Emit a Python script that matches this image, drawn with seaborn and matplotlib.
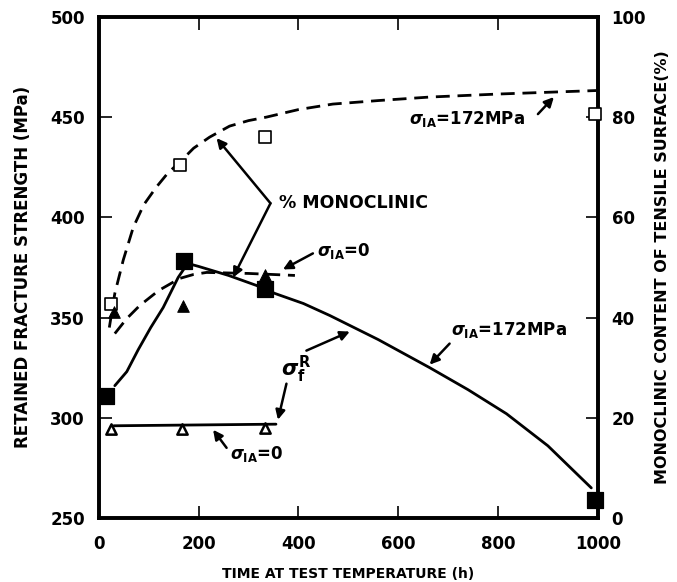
import matplotlib
matplotlib.use("Agg")
import matplotlib.pyplot as plt
import seaborn as sns

sns.set_theme(style="ticks")
plt.rcParams['font.family'] = ['DejaVu Sans']
plt.rcParams['font.weight'] = 'bold'
plt.rcParams['mathtext.fontset'] = 'dejavusans'
for k in ('text.color', 'axes.labelcolor', 'xtick.color', 'ytick.color', 'axes.edgecolor'):
    plt.rcParams[k] = 'black'

# ---- data: retained fracture strength (MPa) ----
sf172_t = [15, 171, 333, 995]
sf172_v = [311, 378, 364, 259]
sf0_t = [25, 166, 333]
sf0_v = [294.5, 294.5, 295]
# hand-drawn curves (MPa)
sf172_curve_t = [32, 56, 79, 104, 129, 159, 178, 200, 260, 316, 353, 410, 463, 560, 663, 740, 817, 900, 987]
sf172_curve_v = [316, 323, 334, 345, 355, 370, 377, 375.5, 371, 366, 362, 357, 351, 339, 325, 314, 302, 286, 265]
sf0_curve_t = [30, 355]
sf0_curve_v = [296, 296.8]

# ---- data: % monoclinic ----
mono172_t = [25, 162, 334, 995]
mono172_v = [42.8, 70.4, 76.0, 80.6]
mono0_t = [31, 169, 333]
mono0_v = [41.2, 42.4, 48.5]
mono172_curve_t = [21, 32, 49, 69, 90, 115, 138, 162, 190, 222, 262, 300, 336, 400, 469, 560, 663, 800, 997]
mono172_curve_v = [38, 44.8, 51.5, 58, 62.5, 66, 68.8, 71, 73.8, 76, 78.2, 79.3, 80, 81.5, 82.6, 83.3, 84, 84.6, 85.3]
mono0_curve_t = [32, 56, 82, 120, 162, 190, 216, 300, 393]
mono0_curve_v = [36.8, 39.8, 42.4, 45.4, 47.8, 48.6, 49, 48.8, 48.4]

x_ticks = [0, 200, 400, 600, 800, 1000]
y_ticks = [250, 300, 350, 400, 450, 500]
y2_ticks = [0, 20, 40, 60, 80, 100]

fig = plt.figure(figsize=(6.77, 5.82), dpi=100)
ax = fig.add_axes([0.146, 0.110, 0.737, 0.861])
ax2 = ax.twinx()

# curves
sns.lineplot(x=sf172_curve_t, y=sf172_curve_v, ax=ax, color='black', lw=2.0, sort=False)
sns.lineplot(x=sf0_curve_t, y=sf0_curve_v, ax=ax, color='black', lw=2.0, sort=False)
sns.lineplot(x=mono172_curve_t, y=mono172_curve_v, ax=ax2, color='black', lw=2.0, sort=False)
sns.lineplot(x=mono0_curve_t, y=mono0_curve_v, ax=ax2, color='black', lw=2.0, sort=False)
for ln in ax2.get_lines():
    ln.set_dashes((5, 2.8))

# markers
sns.scatterplot(x=sf172_t, y=sf172_v, ax=ax, marker='s', s=120, color='black',
                edgecolor='black', zorder=5, clip_on=False)
sns.scatterplot(x=sf0_t, y=sf0_v, ax=ax, marker='^', s=55, facecolor='white',
                edgecolor='black', linewidth=1.8, zorder=5, clip_on=False)
sns.scatterplot(x=mono172_t, y=mono172_v, ax=ax2, marker='s', s=70, facecolor='white',
                edgecolor='black', linewidth=1.2, zorder=5, clip_on=False)
sns.scatterplot(x=mono0_t, y=mono0_v, ax=ax2, marker='^', s=70, color='black',
                edgecolor='black', zorder=5, clip_on=False)

ax.set_xlim(0, 1000)
ax.set_ylim(250, 500)
ax2.set_ylim(0, 100)
ax.set_xticks(x_ticks)
ax.set_yticks(y_ticks)
ax2.set_yticks(y2_ticks)

for a in (ax, ax2):
    for sp in a.spines.values():
        sp.set_linewidth(2.6)
        sp.set_color('black')
ax.tick_params(axis='both', direction='in', length=9, width=1.2, labelsize=12,
               top=True, pad=10)
ax.tick_params(axis='x', pad=12)
ax2.tick_params(axis='y', direction='in', length=9, width=1.2, labelsize=12, pad=10)
for lab in ax.get_xticklabels() + ax.get_yticklabels() + ax2.get_yticklabels():
    lab.set_fontweight('bold')

ax.set_xlabel('TIME AT TEST TEMPERATURE (h)', fontsize=10, fontweight='bold', labelpad=10)
ax.set_ylabel('RETAINED FRACTURE STRENGTH (MPa)', fontsize=12, fontweight='bold', labelpad=13)
ax2.set_ylabel('MONOCLINIC CONTENT OF TENSILE SURFACE(%)', fontsize=11.5, fontweight='bold',
               labelpad=6)

arrow = dict(arrowstyle='-|>', color='black', lw=1.8, mutation_scale=14,
             shrinkA=0, shrinkB=0)

# % MONOCLINIC with two arrows
ax.text(362, 407, '% MONOCLINIC', fontsize=12.5, fontweight='bold', va='center', ha='left')
ax.annotate('', xy=(236, 439.5), xytext=(344, 407), arrowprops=arrow)
ax.annotate('', xy=(269, 370), xytext=(344, 407), arrowprops=arrow)

# sigma_IA = 0 (upper, monoclinic)
ax.text(438, 383, r'$\sigma_{\mathbf{IA}}$=0', fontsize=12, fontweight='bold', va='center')
ax.annotate('', xy=(369, 374), xytext=(429, 382), arrowprops=arrow)

# sigma_IA = 172 MPa (upper)
ax.text(622, 449, r'$\sigma_{\mathbf{IA}}$=172MPa', fontsize=12, fontweight='bold', va='center')
ax.annotate('', xy=(912, 460), xytext=(880, 451.5), arrowprops=arrow)

# sigma_IA = 172 MPa (lower)
ax.text(706, 344, r'$\sigma_{\mathbf{IA}}$=172MPa', fontsize=12, fontweight='bold', va='center')
ax.annotate('', xy=(663, 326.5), xytext=(703, 337), arrowprops=arrow)

# sigma_f^R
ax.text(366, 324, r'$\sigma_{\mathbf{f}}^{\mathbf{R}}$', fontsize=15, va='center')
ax.annotate('', xy=(503, 343), xytext=(416, 333.5), arrowprops=arrow)
ax.annotate('', xy=(359, 299), xytext=(376, 317), arrowprops=arrow)

# sigma_IA = 0 (lower)
ax.text(262, 282, r'$\sigma_{\mathbf{IA}}$=0', fontsize=12, fontweight='bold', va='center')
ax.annotate('', xy=(229, 294), xytext=(256, 285), arrowprops=arrow)

fig.savefig('out.png', dpi=100)
